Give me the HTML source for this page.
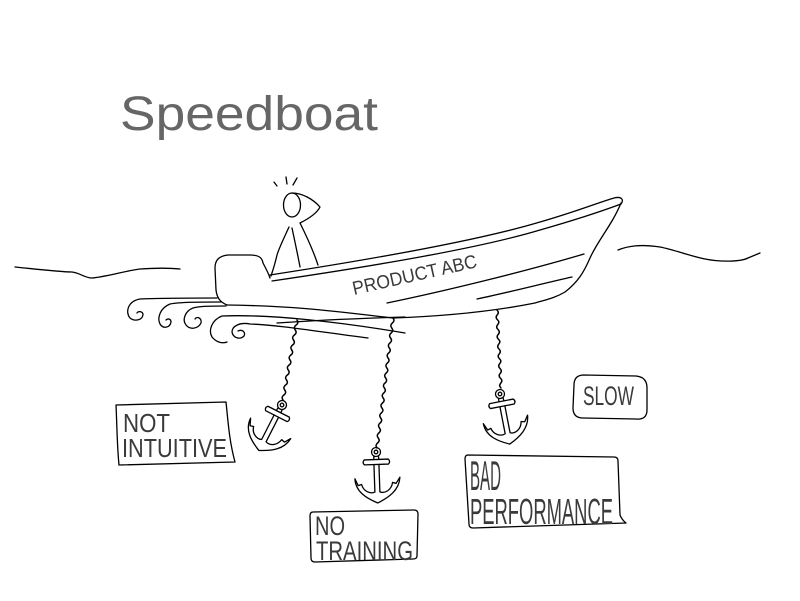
<!DOCTYPE html>
<html><head><meta charset="utf-8"><style>
html,body{margin:0;padding:0;background:#fff;}
svg{display:block;}
.s{fill:none;stroke:#000;stroke-width:1.3;stroke-linecap:round;stroke-linejoin:round;}
.t{font-family:"Liberation Sans",sans-serif;fill:#3a3a3a;}
</style></head><body>
<svg width="800" height="601" viewBox="0 0 800 601" xmlns="http://www.w3.org/2000/svg">
<defs>
<g id="anc" class="s">
  <circle cx="0" cy="0" r="4.5"/>
  <circle cx="0" cy="0" r="1.8"/>
  <path d="M -2.3 4 L -2.5 7.5 M 2.3 4 L 2.5 7.5"/>
  <path d="M -12 7.5 L 12 7.5 Q 14.5 10 12 12.5 L -12 12.5 Q -14.5 10 -12 7.5 Z"/>
  <path d="M -2.5 12.5 L -2.5 40 C -7 42, -14 39, -15.5 32 L -19 33 L -22 26 C -22 39, -11 46, 0 51 C 11 46, 22 39, 23 26 L 19 32 L 15.5 31 C 14 39, 7 42, 2.5 40 L 2.5 12.5"/>
</g>
</defs>

<!-- title -->
<text class="t" x="120" y="130" font-size="48" textLength="258" lengthAdjust="spacingAndGlyphs" style="fill:#666">Speedboat</text>

<!-- water lines -->
<path class="s" d="M 15 267 C 35 269, 60 272, 72 272 C 80 273, 85 278, 92 278 C 105 277, 125 271, 140 269 C 155 268, 170 268, 180 269"/>
<path class="s" d="M 618 250 C 628 246, 640 244, 660 247 C 675 250, 690 256, 705 259 C 720 262, 740 262, 748 258 L 760 253"/>

<!-- person -->
<ellipse class="s" cx="292" cy="205" rx="8.5" ry="12"/>
<path class="s" d="M 292 193 C 302 193, 313 199, 320 207 C 317 213, 308 219, 300 223 C 306 235, 313 250, 318 265"/>
<path class="s" d="M 289 227 C 284 238, 279 248, 277 255 C 275 264, 273 270, 271 276"/>
<path class="s" d="M 292 228 C 295 242, 298 256, 300 267"/>
<path class="s" d="M 274 182 L 277 186 M 286 177 L 287 184 M 297 178 L 293 185"/>

<!-- motor -->
<path class="s" d="M 270 278 C 268 272, 265 267, 263 263 C 262 257, 258 255, 250 255 L 228 255 C 219 256, 215 260, 215 268 L 216 290 C 217 298, 220 302, 227 305"/>

<!-- gunwale -->
<path class="s" d="M 270 275 C 380 258, 480 240, 540 222 C 575 212, 600 202, 614 198 C 622 196, 624 200, 621 204"/>
<path class="s" d="M 272 281 C 380 265, 480 248, 540 230 C 575 220, 605 210, 621 204"/>
<!-- bow and hull -->
<path class="s" d="M 621 203 C 612 225, 598 240, 590 258 C 584 272, 578 282, 565 292 C 555 298, 545 300, 535 303 C 500 310, 450 316, 393 318 C 340 312, 300 306, 227 305"/>
<path class="s" d="M 387 303 C 450 290, 530 270, 584 254"/>
<path class="s" d="M 477 299 C 510 292, 545 283, 572 277"/>

<!-- product text -->
<text class="t" transform="translate(354,295) rotate(-12.7)" x="0" y="0" font-size="19" textLength="127" lengthAdjust="spacingAndGlyphs">PRODUCT ABC</text>

<!-- wake curls -->
<path class="s" d="M 217 298 C 190 298, 160 298, 140 299 C 128 301, 125 312, 130 318 C 135 322, 143 320, 143 314 C 142 311, 138 311, 137 313"/>
<path class="s" d="M 221 302 C 200 302, 180 302, 170 304 C 160 308, 157 318, 160 324 C 163 329, 170 328, 171 322 C 171 319, 168 318, 166 320"/>
<path class="s" d="M 226 306 C 212 306, 200 306, 193 308 C 185 311, 182 320, 186 325 C 190 330, 198 329, 201 323 C 202 318, 197 316, 195 319"/>
<path class="s" d="M 405 333 C 340 322, 270 314, 222 316 C 212 320, 208 330, 212 337 C 216 342, 222 344, 227 342"/>
<path class="s" d="M 368 338 C 320 332, 280 325, 250 324 C 240 322, 232 326, 232 332 C 233 338, 240 340, 244 336 C 246 332, 242 329, 238 331"/>
<path class="s" d="M 277 323 C 320 320, 370 318, 405 317"/>

<!-- chains -->
<path class="s" style="stroke-width:1.5" d="M 297 320 q 2.1 2.9 -0.875 5 t -0.875 5 t -0.875 5 t -0.875 5 t -0.875 5 t -0.875 5 t -0.875 5 t -0.875 5 t -0.875 5 t -0.875 5 t -0.875 5 t -0.875 5 t -0.875 5 t -0.875 5 t -0.875 5 t -0.875 5"/>
<path class="s" style="stroke-width:1.5" d="M 393 318 q 2.2 2.8 -0.615 5 t -0.615 5 t -0.615 5 t -0.615 5 t -0.615 5 t -0.615 5 t -0.615 5 t -0.615 5 t -0.615 5 t -0.615 5 t -0.615 5 t -0.615 5 t -0.615 5 t -0.615 5 t -0.615 5 t -0.615 5 t -0.615 5 t -0.615 5 t -0.615 5 t -0.615 5 t -0.615 5 t -0.615 5 t -0.615 5 t -0.615 5 t -0.615 5 t -0.615 5"/>
<path class="s" style="stroke-width:1.5" d="M 497 310 q 2.5 2.4 0.25 4.875 t 0.25 4.875 t 0.25 4.875 t 0.25 4.875 t 0.25 4.875 t 0.25 4.875 t 0.25 4.875 t 0.25 4.875 t 0.25 4.875 t 0.25 4.875 t 0.25 4.875 t 0.25 4.875 t 0.25 4.875 t 0.25 4.875 t 0.25 4.875 t 0.25 4.875"/>

<!-- anchors -->
<use href="#anc" transform="translate(282,405) rotate(27)"/>
<use href="#anc" transform="translate(376,452) rotate(-2)"/>
<use href="#anc" transform="translate(500,394) rotate(-11)"/>

<!-- label boxes -->
<path class="s" d="M 116 405 L 226 402 C 228 420, 229 440, 235 462 L 119 465 C 117 445, 117 425, 116 405 Z"/>
<text class="t" x="123" y="432" font-size="26" textLength="47" lengthAdjust="spacingAndGlyphs">NOT</text>
<text class="t" x="122" y="457" font-size="26" textLength="105" lengthAdjust="spacingAndGlyphs">INTUITIVE</text>

<path class="s" d="M 313 512 L 414 510 Q 418 510 418 514 L 417 556 Q 417 559 413 559 L 315 562 Q 311 562 311 558 L 310 516 Q 310 512 313 512 Z"/>
<text class="t" x="315" y="535" font-size="27" textLength="30" lengthAdjust="spacingAndGlyphs">NO</text>
<text class="t" x="316" y="560" font-size="27" textLength="97" lengthAdjust="spacingAndGlyphs">TRAINING</text>

<path class="s" d="M 584 375 L 636 376 Q 647 377 647 388 L 647 410 Q 647 420 636 419 L 583 418 Q 573 418 573 408 L 574 385 Q 574 375 584 375 Z"/>
<text class="t" x="583" y="405" font-size="27" textLength="51" lengthAdjust="spacingAndGlyphs">SLOW</text>

<path class="s" d="M 468 455 L 614 457 Q 618 457 618 461 L 620 515 Q 622 520 626 523 L 473 528 Q 469 528 469 524 L 465 459 Q 465 455 468 455 Z"/>
<text class="t" x="470" y="490" font-size="42" textLength="31" lengthAdjust="spacingAndGlyphs">BAD</text>
<text class="t" x="470" y="524" font-size="36" textLength="143" lengthAdjust="spacingAndGlyphs">PERFORMANCE</text>
</svg>
</body></html>
